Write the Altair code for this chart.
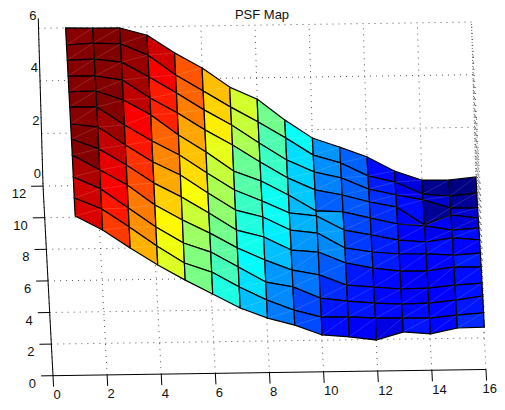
import altair as alt

# Surface heights: one list per x value (x = 1..16), read from y = 12 down to y = 1
z_x01 = [6.00, 5.95, 5.98, 5.97, 5.97, 6.00, 5.95, 5.98, 5.97, 5.74, 5.54, 5.46]
z_x02 = [5.98, 6.01, 6.00, 5.96, 5.99, 5.98, 5.82, 5.59, 5.39, 5.27, 5.11, 4.91]
z_x03 = [5.97, 5.96, 5.87, 5.79, 5.63, 5.28, 5.12, 4.96, 4.80, 4.53, 4.41, 4.21]
z_x04 = [5.68, 5.52, 5.29, 5.09, 5.05, 4.66, 4.46, 4.26, 4.03, 3.79, 3.67, 3.55]
z_x05 = [4.99, 4.75, 4.67, 4.51, 4.27, 4.11, 3.95, 3.72, 3.44, 3.17, 3.01, 2.96]
z_x06 = [4.40, 4.13, 4.01, 3.85, 3.61, 3.41, 3.25, 3.09, 2.93, 2.81, 2.65, 2.42]
z_x07 = [3.66, 3.50, 3.42, 3.26, 2.87, 2.75, 2.59, 2.43, 2.35, 2.23, 2.07, 1.87]
z_x08 = [3.19, 2.92, 2.72, 2.60, 2.48, 2.32, 2.31, 2.15, 1.88, 1.64, 1.56, 1.47]
z_x09 = [2.38, 2.30, 2.06, 1.98, 1.93, 1.85, 1.80, 1.64, 1.48, 1.44, 1.16, 1.19]
z_x10 = [1.68, 1.63, 1.59, 1.51, 1.31, 1.72, 1.67, 1.55, 1.28, 1.00, 0.88, 0.80]
z_x11 = [1.32, 1.32, 1.35, 1.30, 1.26, 1.17, 1.09, 1.12, 0.88, 0.87, 0.87, 0.71]
z_x12 = [0.93, 0.81, 0.91, 1.02, 1.01, 0.97, 0.92, 0.91, 0.79, 0.78, 0.81, 0.58]
z_x13 = [0.38, 0.56, 0.67, 0.81, 0.77, 0.76, 0.83, 0.78, 0.70, 0.73, 0.80, 0.87]
z_x14 = [0.02, 0.09, 0.47, 0.12, 0.68, 0.67, 0.82, 0.77, 0.72, 0.75, 0.78, 0.78]
z_x15 = [0.01, 0.00, 0.15, 0.48, 0.51, 0.81, 0.76, 0.91, 0.82, 0.85, 0.88, 0.99]
z_x16 = [0.11, 0.10, 0.13, 0.35, 0.57, 0.72, 0.82, 0.89, 0.88, 0.99, 0.95, 1.01]
Z_COLS = [z_x01, z_x02, z_x03, z_x04, z_x05, z_x06, z_x07, z_x08,
          z_x09, z_x10, z_x11, z_x12, z_x13, z_x14, z_x15, z_x16]

x_ticks = [0, 2, 4, 6, 8, 10, 12, 14, 16]
y_ticks = [0, 2, 4, 6, 8, 10, 12]
z_ticks = [0, 2, 4, 6]
Z_AXIS_TOP = 6.38
TITLE = "PSF Map"
FONT = "Liberation Sans"

jet_domain = [0, 0.75, 2.25, 3.75, 5.25, 6]
jet_range = ["#000080", "#0000ff", "#00ffff", "#ffff00", "#ff0000", "#800000"]


def proj(x, y, z=0.0):
    """MATLAB-style view transform of a data point onto the picture plane."""
    return [53 + 27.06 * x - 0.83 * y - 0.75 * z,
            375.7 - 0.39 * x - 15.8 * y - 26.3 * z]


def line(*pts):
    return {"type": "Feature", "properties": {},
            "geometry": {"type": "LineString", "coordinates": [proj(*p) for p in pts]}}


def height(i, y):
    return Z_COLS[i][12 - y]


cells, diagonals = [], []
for y in range(11, 0, -1):
    for i in range(15):
        x = i + 1
        a = proj(x, y, height(i, y))
        b = proj(x + 1, y, height(i + 1, y))
        c = proj(x + 1, y + 1, height(i + 1, y + 1))
        d = proj(x, y + 1, height(i, y + 1))
        cells.append({"type": "Feature", "properties": {"z": height(i, y)},
                      "geometry": {"type": "Polygon", "coordinates": [[a, b, c, d, a]]}})
        diagonals.append({"type": "Feature", "properties": {},
                          "geometry": {"type": "LineString", "coordinates": [a, c]}})

grid = []
for x in x_ticks:
    grid.append(line((x, 0, 0), (x, 12, 0), (x, 12, 6)))
for y in y_ticks[1:]:
    grid.append(line((0, y, 0), (16, y, 0), (16, y, 6)))
for z in z_ticks[1:]:
    grid.append(line((0, 12, z), (16, 12, z), (16, 0, z)))

axes = [line((0, 0, 0), (16, 0, 0)),
        line((0, 0, 0), (0, 12, 0)),
        line((0, 12, 0), (0, 12, Z_AXIS_TOP))]
for x in x_ticks:
    axes.append(line((x, 0, 0), (x, -0.7, 0)))
for y in y_ticks:
    axes.append(line((0, y, 0), (-0.44, y, 0)))

x_labels = [{"lon": min(proj(v, 0)[0] + 0.5, 482.5), "lat": proj(v, 0)[1] + 19.5, "t": str(v)} for v in x_ticks]
y_labels = [{"lon": proj(-0.44, v)[0] - 5, "lat": proj(-0.44, v)[1] + 8, "t": str(v)} for v in y_ticks]
z_labels = [{"lon": proj(0, 12, v)[0] - 2, "lat": proj(0, 12, v)[1] - 12.5, "t": str(v)} for v in z_ticks]
title_pos = [{"lon": 262, "lat": 15, "t": TITLE}]

projection = alt.Projection(type="identity", scale=1, translate=[-8, -8])


def geo(features, **mark):
    return alt.Chart(alt.Data(values=features)).mark_geoshape(**mark).project(**projection.to_dict())


def text(rows, align, size=13):
    return alt.Chart(alt.Data(values=rows)).mark_text(
        font=FONT, fontSize=size, align=align, baseline="middle", color="#111111"
    ).encode(longitude="lon:Q", latitude="lat:Q", text="t:N").project(**projection.to_dict())


grid_layer = geo(grid, filled=False, stroke="#555555", strokeWidth=1, strokeDash=[1, 5])
surface = geo(cells, stroke="black", strokeWidth=1.2).encode(
    color=alt.Color("properties.z:Q", legend=None,
                    scale=alt.Scale(domain=jet_domain, range=jet_range, clamp=True, interpolate="rgb"))
)
diag_layer = geo(diagonals, filled=False, stroke="white", strokeWidth=0.7, strokeOpacity=0.2)
axis_layer = geo(axes, filled=False, stroke="black", strokeWidth=1)

chart = alt.layer(
    grid_layer, surface, diag_layer, axis_layer,
    text(x_labels, "left"), text(y_labels, "right"), text(z_labels, "right"),
    text(title_pos, "center"),
).properties(width=489, height=394, padding=0, autosize="none").configure_view(stroke=None)

chart.save("out.html", embed_options={"renderer": "svg", "actions": False})
